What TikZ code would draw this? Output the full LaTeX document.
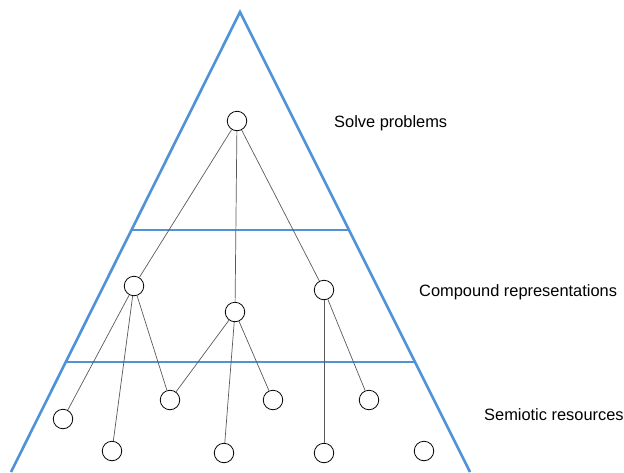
\documentclass[tikz,border=0pt]{standalone}
\usepackage{fontspec}
\setmainfont{Liberation Sans}
\usepackage{tikz}
\usetikzlibrary{positioning, calc}
\definecolor{levelblue}{RGB}{79,146,216}
\definecolor{linkgray}{RGB}{90,90,90}

\tikzset{
	res/.style={circle, draw, thick, minimum size=19.5pt, inner sep=0pt},
	link/.style={draw=linkgray, line width=0.7pt},
	level/.style={anchor=west, inner sep=0pt, font=\fontsize{16.4}{19}\selectfont}
}

\begin{document}
\begin{tikzpicture}[x=1pt,y=-1pt]
	\useasboundingbox (0,0) rectangle (624,472);
	% pyramid and levels
	\draw[levelblue, line width=2.6pt, line join=miter] (11,472)--(240,12)--(470,472);
	\draw[levelblue, line width=1.2pt] (131,230)--(349,230);
	\draw[levelblue, line width=1.2pt] (65,362)--(415,362);
	% nodes
	\node[res] (top) at (237,121) {};
	\node[res] (cl) at (134,286) {};
	\node[res] (cm) at (235,312) {};
	\node[res] (cr) at (324,290) {};
	\node[res] (s1) at (63,419) {};
	\node[res] (s2) at (112,451) {};
	\node[res] (s3) at (170,400) {};
	\node[res] (s4) at (224,453) {};
	\node[res] (s5) at (273,400) {};
	\node[res] (s6) at (324,453) {};
	\node[res] (s7) at (369,400) {};
	\node[res] (s8) at (424,451) {};
	% links
	\foreach \a/\b in {top/cl, top/cm, top/cr, cl/s1, cl/s2, cl/s3, cm/s3, cm/s4, cm/s5, cr/s6, cr/s7}
		\draw[link] (\a) -- (\b);
	% labels
	\node[level] (lsolve) at (334,123) {Solve problems};
	\node[level] (lcomp) at (419,292) {Compound representations};
	\node[level] (lsemi) at (484,415) {Semiotic resources};
\end{tikzpicture}
\end{document}
